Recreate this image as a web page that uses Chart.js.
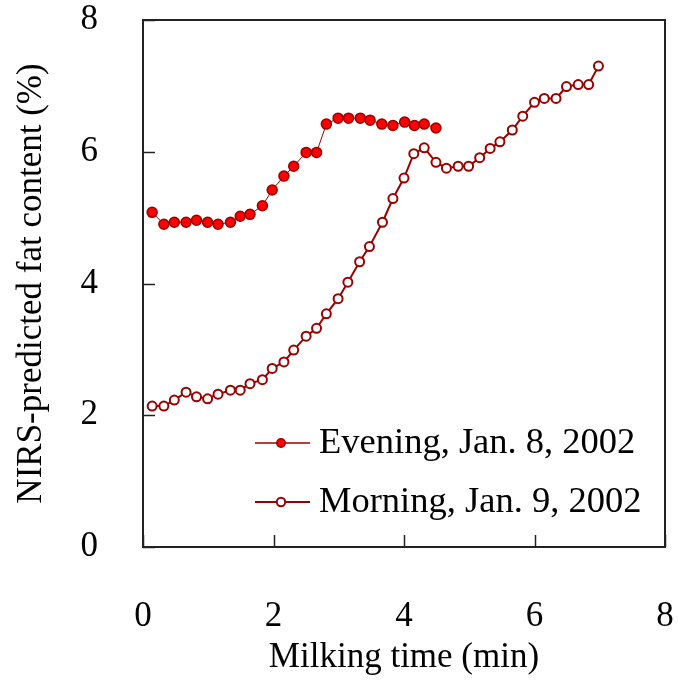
<!DOCTYPE html>
<html>
<head>
<meta charset="utf-8">
<script src="https://cdn.jsdelivr.net/npm/chart.js@4.4.1/dist/chart.umd.min.js"></script>
<style>
  html, body { margin: 0; padding: 0; background: #fff; }
  canvas { display: block; }
</style>
</head>
<body>
<canvas id="fatChart" width="679" height="680"></canvas>
<script>
// Evening, Jan. 8, 2002
const eveningTime = [0.14, 0.32, 0.48, 0.66, 0.82, 0.99, 1.15, 1.34, 1.49, 1.64, 1.83, 1.98, 2.16, 2.31, 2.50, 2.66, 2.81, 2.99, 3.15, 3.33, 3.48, 3.66, 3.83, 4.01, 4.16, 4.31, 4.49];
const eveningFat = [5.08, 4.90, 4.93, 4.93, 4.96, 4.93, 4.90, 4.93, 5.02, 5.05, 5.18, 5.42, 5.63, 5.78, 5.99, 5.99, 6.42, 6.51, 6.51, 6.51, 6.48, 6.42, 6.40, 6.45, 6.40, 6.42, 6.36];

// Morning, Jan. 9, 2002
const morningTime = [0.14, 0.32, 0.48, 0.66, 0.82, 0.99, 1.15, 1.34, 1.49, 1.64, 1.83, 1.98, 2.16, 2.31, 2.50, 2.66, 2.81, 2.99, 3.14, 3.32, 3.47, 3.67, 3.83, 4.00, 4.15, 4.31, 4.49, 4.65, 4.83, 4.99, 5.16, 5.32, 5.47, 5.66, 5.82, 6.00, 6.15, 6.33, 6.49, 6.67, 6.83, 6.98];
const morningFat = [2.14, 2.14, 2.23, 2.35, 2.28, 2.25, 2.32, 2.38, 2.38, 2.48, 2.54, 2.71, 2.81, 2.99, 3.20, 3.32, 3.54, 3.77, 4.02, 4.33, 4.56, 4.93, 5.29, 5.60, 5.97, 6.06, 5.84, 5.75, 5.78, 5.78, 5.91, 6.05, 6.15, 6.33, 6.54, 6.75, 6.81, 6.81, 6.99, 7.02, 7.02, 7.30];

const seriesNames = ['Evening, Jan. 8, 2002', 'Morning, Jan. 9, 2002'];
const xTicks = [0, 2, 4, 6, 8];
const yTicks = [0, 2, 4, 6, 8];

const serif = "'Liberation Serif', 'Times New Roman', serif";
const dark = '#990000';

function toPoints(xs, ys) {
    return xs.map((x, i) => ({ x: x, y: ys[i] }));
}

// frame round the plot area plus inward tick marks
const framePlugin = {
    id: 'frame',
    beforeDatasetsDraw(chart) {
        const ctx = chart.ctx;
        const a = chart.chartArea;
        const xs = chart.scales.x, ys = chart.scales.y;
        ctx.save();
        ctx.strokeStyle = '#222';
        ctx.lineWidth = 1.5;
        xTicks.forEach(v => {
            const px = Math.round(xs.getPixelForValue(v)) + 0.5;
            ctx.beginPath();
            ctx.moveTo(px, a.bottom);
            ctx.lineTo(px, a.bottom - 12);
            ctx.stroke();
        });
        yTicks.forEach(v => {
            const py = Math.round(ys.getPixelForValue(v)) + 0.5;
            ctx.beginPath();
            ctx.moveTo(a.left, py);
            ctx.lineTo(a.left + 12, py);
            ctx.stroke();
        });
        ctx.lineWidth = 2;
        ctx.strokeRect(a.left, a.top, a.right - a.left, a.bottom - a.top);
        ctx.restore();
    }
};

// legend inside the plot, lower right
const legendPlugin = {
    id: 'insideLegend',
    afterDraw(chart) {
        const ctx = chart.ctx;
        const rows = [443, 502];
        ctx.save();
        chart.data.datasets.forEach((ds, i) => {
            const y = rows[i];
            ctx.strokeStyle = ds.borderColor;
            ctx.lineWidth = Math.max(ds.borderWidth, 1.5);
            ctx.beginPath();
            ctx.moveTo(255, y);
            ctx.lineTo(310, y);
            ctx.stroke();
            ctx.beginPath();
            ctx.arc(281, y, 4.2, 0, Math.PI * 2);
            ctx.fillStyle = ds.pointBackgroundColor;
            ctx.fill();
            ctx.lineWidth = ds.pointBorderWidth;
            ctx.strokeStyle = ds.pointBorderColor;
            ctx.stroke();
            ctx.fillStyle = '#000';
            ctx.font = '36.5px ' + serif;
            ctx.textBaseline = 'middle';
            ctx.textAlign = 'left';
            ctx.fillText(ds.label, 319, y);
        });
        ctx.restore();
    }
};

const ctx = document.getElementById('fatChart').getContext('2d');
new Chart(ctx, {
    type: 'scatter',
    data: {
        datasets: [
            {
                label: seriesNames[0],
                data: toPoints(eveningTime, eveningFat),
                showLine: true,
                borderColor: dark,
                borderWidth: 1,
                pointRadius: 5,
                pointBorderWidth: 1.5,
                pointBackgroundColor: '#ff0000',
                pointBorderColor: dark
            },
            {
                label: seriesNames[1],
                data: toPoints(morningTime, morningFat),
                showLine: true,
                borderColor: dark,
                borderWidth: 2,
                pointRadius: 4.5,
                pointBorderWidth: 2,
                pointBackgroundColor: '#ffffff',
                pointBorderColor: dark
            }
        ]
    },
    options: {
        responsive: false,
        animation: false,
        layout: { padding: { top: 20, right: 14, left: 0, bottom: 0 } },
        plugins: {
            legend: { display: false },
            tooltip: { enabled: false }
        },
        scales: {
            x: {
                type: 'linear',
                min: 0,
                max: 8,
                grid: { display: false },
                border: { display: false },
                ticks: {
                    stepSize: 2,
                    padding: 41,
                    color: '#000',
                    font: { family: serif, size: 35 }
                },
                title: {
                    display: true,
                    text: 'Milking time (min)',
                    color: '#000',
                    padding: { top: 0, bottom: 1 },
                    font: { family: serif, size: 35 }
                },
                afterFit(scale) {
                    scale.height = 133;
                    scale.paddingLeft = 0;
                    scale.paddingRight = 0;
                }
            },
            y: {
                min: 0,
                max: 8,
                grid: { display: false },
                border: { display: false },
                ticks: {
                    stepSize: 2,
                    padding: 37,
                    color: '#000',
                    font: { family: serif, size: 35 }
                },
                title: {
                    display: true,
                    text: 'NIRS-predicted fat content (%)',
                    color: '#000',
                    padding: { top: 11, bottom: 0 },
                    font: { family: serif, size: 35 }
                },
                afterFit(scale) {
                    scale.width = 143;
                    scale.paddingTop = 0;
                    scale.paddingBottom = 0;
                }
            }
        }
    },
    plugins: [framePlugin, legendPlugin]
});
</script>
</body>
</html>
